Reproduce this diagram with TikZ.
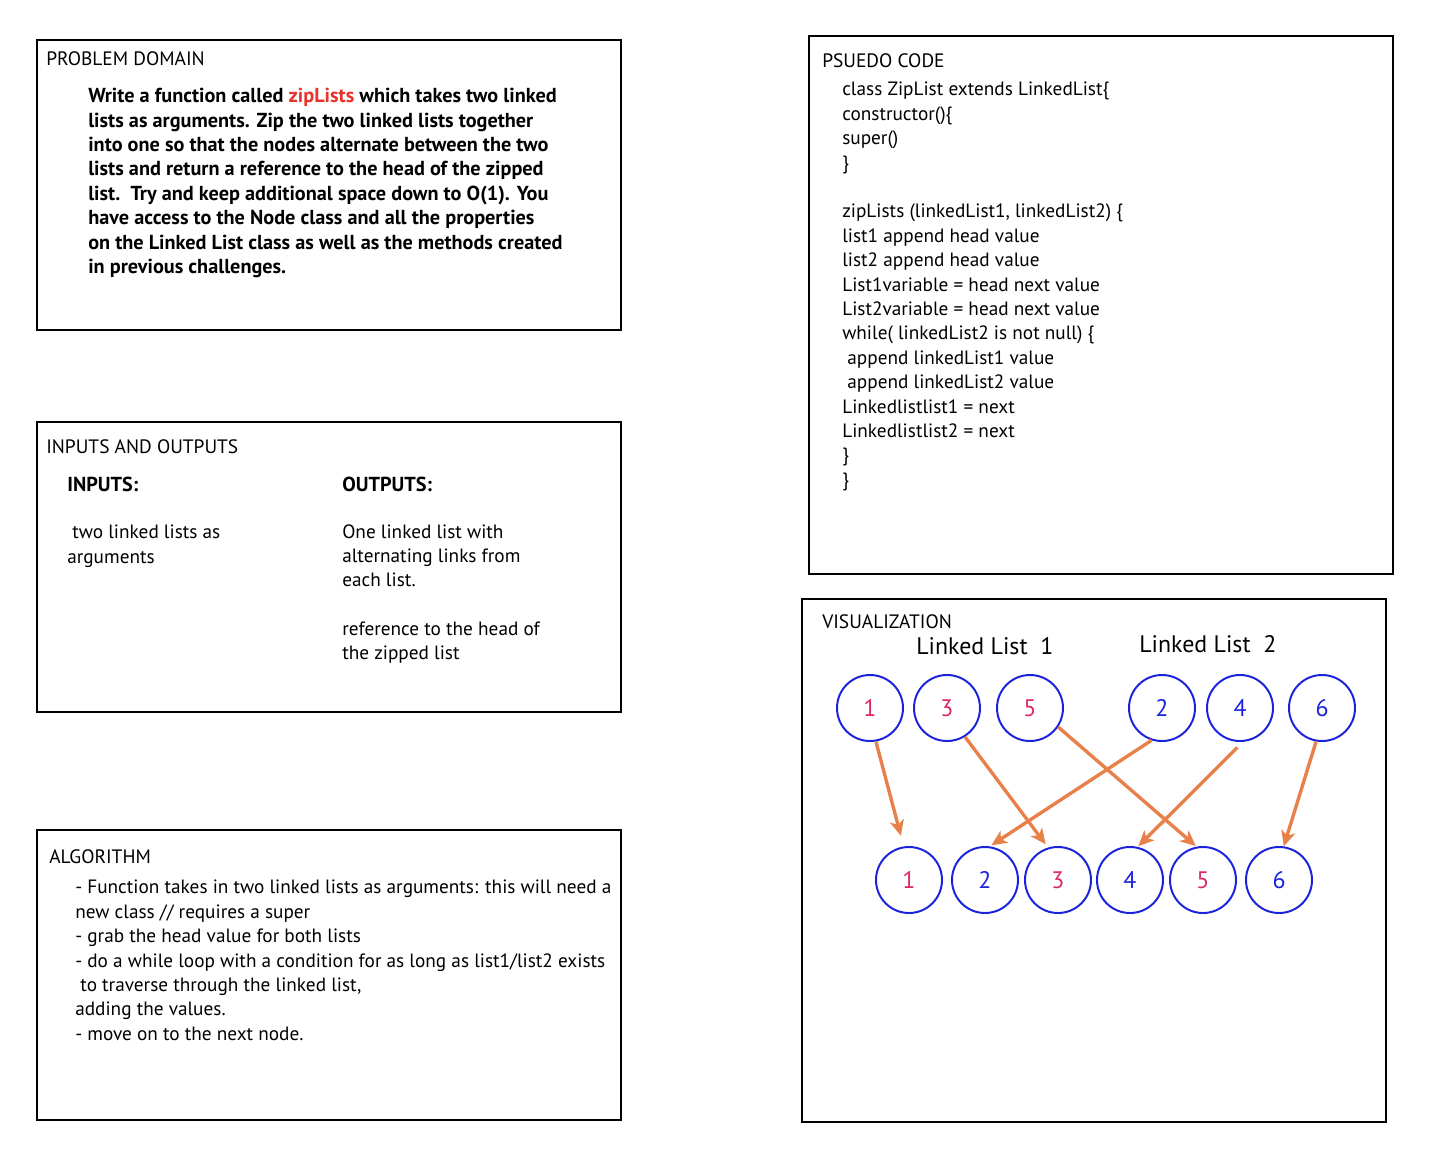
\documentclass[tikz,border=0pt]{standalone}
\usepackage{fontspec}
\setmainfont{PT Sans}
\usetikzlibrary{arrows.meta}
\definecolor{zorange}{HTML}{E8804A}
\definecolor{zblue}{HTML}{1A22DC}
\definecolor{zpink}{HTML}{DC2864}
\definecolor{zred}{HTML}{E8322A}
\tikzset{
  frame/.style={line width=1.8pt},
  head/.style={anchor=north west, inner sep=0pt, font=\fontsize{13.8}{17}\selectfont},
  body/.style={anchor=north west, inner sep=0pt, align=left, font=\fontsize{13.7}{17.35}\selectfont},
  bbody/.style={body, font=\fontsize{14.4}{17.35}\selectfont\bfseries},
  num/.style={circle, draw=zblue, line width=1.4pt, inner sep=0pt, minimum size=1.65cm, font=\fontsize{17}{20}\selectfont},
  zarrow/.style={draw=zorange, line width=2.4pt, -{Stealth[length=11pt, width=10pt, inset=3pt]}}
}
\begin{document}
\begin{tikzpicture}[x=0.025cm, y=-0.025cm]
\useasboundingbox (0,0) rectangle (1434,1158);
% frames
\draw[frame] (37,40) rectangle (621,330);
\draw[frame] (37,422) rectangle (621,712);
\draw[frame] (37,830) rectangle (621,1120);
\draw[frame] (809,36) rectangle (1393,574);
\draw[frame] (802,599) rectangle (1386,1122);
% problem domain
\node[head] (pdhead) at (46,51) {PROBLEM DOMAIN};
\node[bbody] (pdtext) at (88,88) {Write a function called \textcolor{zred}{zipLists} which takes two linked\\
lists as arguments. Zip the two linked lists together\\
into one so that the nodes alternate between the two\\
lists and return a reference to the head of the zipped\\
list.\ \ Try and keep additional space down to O(1). You\\
have access to the Node class and all the properties\\
on the Linked List class as well as the methods created\\
in previous challenges.};
% inputs and outputs
\node[head] (iohead) at (46,439) {INPUTS AND OUTPUTS};
\node[bbody] (inhead) at (67,477) {INPUTS:};
\node[bbody] (outhead) at (342,477) {OUTPUTS:};
\node[body] (intext) at (67,525) {\ two linked lists as\\arguments};
\node[body] (outtext) at (342,524) {One linked list with\\
alternating links from\\
each list.\\
\\
reference to the head of\\
the zipped list};
% algorithm
\node[head] (alghead) at (49,849) {ALGORITHM};
\node[body] (algtext) at (75,880) {- Function takes in two linked lists as arguments: this will need a\\
new class // requires a super\\
- grab the head value for both lists\\
- do a while loop with a condition for as long as list1/list2 exists\\
\ to traverse through the linked list,\\
adding the values.\\
- move on to the next node.};
% pseudo code
\node[head] (pchead) at (822,53) {PSUEDO CODE};
\node[body] (pctext) at (842,82) {class ZipList extends LinkedList\{\\
constructor()\{\\
super()\\
\}\\
\\
zipLists (linkedList1, linkedList2) \{\\
list1 append head value\\
list2 append head value\\
List1variable = head next value\\
List2variable = head next value\\
while( linkedList2 is not null) \{\\
\ append linkedList1 value\\
\ append linkedList2 value\\
Linkedlistlist1 = next\\
Linkedlistlist2 = next\\
\}\\
\}};
% visualization
\node[head] (vishead) at (822,614) {VISUALIZATION};
\node[body, font=\fontsize{17}{20}\selectfont] (ll1) at (916,637) {Linked List~~1};
\node[body, font=\fontsize{17}{20}\selectfont] (ll2) at (1139,635) {Linked List~~2};
\node[num, text=zpink] (t1) at (870,708) {1};
\node[num, text=zpink] (t3) at (947,708) {3};
\node[num, text=zpink] (t5) at (1030,708) {5};
\node[num, text=zblue] (t2) at (1162,708) {2};
\node[num, text=zblue] (t4) at (1240,708) {4};
\node[num, text=zblue] (t6) at (1322,708) {6};
\node[num, text=zpink] (b1) at (909,880) {1};
\node[num, text=zblue] (b2) at (985,880) {2};
\node[num, text=zpink] (b3) at (1058,880) {3};
\node[num, text=zblue] (b4) at (1130,880) {4};
\node[num, text=zpink] (b5) at (1203,880) {5};
\node[num, text=zblue] (b6) at (1279,880) {6};
% zip arrows
\draw[zarrow, shorten >=11*0.025cm] (t1.-80) -- (b1.99);
\draw[zarrow, shorten >=4*0.025cm] (t3.-58) -- (b3.107);
\draw[zarrow, shorten >=1*0.025cm] (t5.-34) -- (b5.101);
\draw[zarrow, shorten >=2*0.025cm] (t2.-108) -- (b2.82);
\draw[zarrow, shorten <=8*0.025cm, shorten >=1*0.025cm] (t4.-85) -- (b4.77);
\draw[zarrow] (t6.-100) -- (b6.82);
\end{tikzpicture}
\end{document}
